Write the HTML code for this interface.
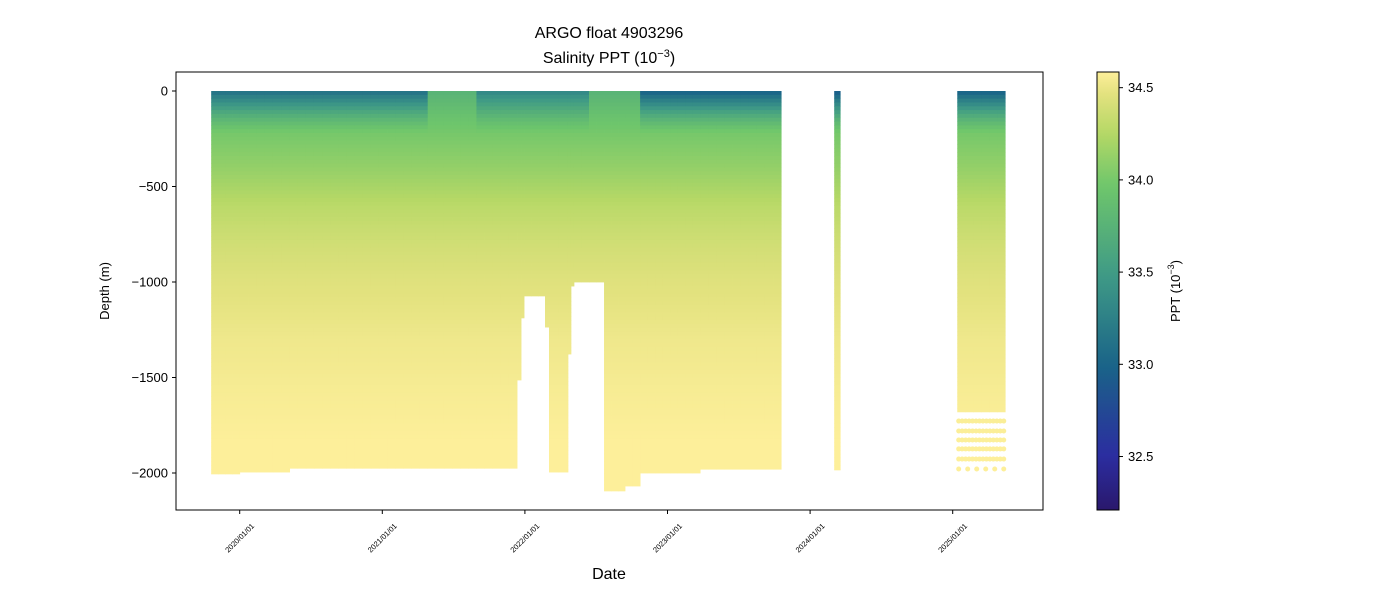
<!DOCTYPE html>
<html><head><meta charset="utf-8">
<style>
html,body{margin:0;padding:0;background:#fff;}
svg{display:block;font-family:"Liberation Sans","DejaVu Sans",sans-serif;}
</style></head>
<body>
<svg id="chart" width="1400" height="600" viewBox="0 0 1400 600">
  <text x="609" y="38" font-size="16" text-anchor="middle">ARGO float 4903296</text>
  <text x="609" y="63" font-size="16" text-anchor="middle">Salinity PPT (10<tspan dy="-6" font-size="11">−3</tspan><tspan dy="6">)</tspan></text>
  <g id="plot"></g>
  <rect x="176" y="72" width="867" height="438" fill="none" stroke="#000" stroke-width="1"/>
  <g id="yaxis"></g>
  <g id="xaxis"></g>
  <text x="0" y="0" font-size="13" text-anchor="middle" transform="translate(109,291) rotate(-90)">Depth (m)</text>
  <text x="609" y="579" font-size="16" text-anchor="middle">Date</text>
  <defs><linearGradient id="cbgrad" x1="0" y1="1" x2="0" y2="0"></linearGradient></defs>
  <rect x="1097" y="72" width="22" height="438" fill="url(#cbgrad)" stroke="#000" stroke-width="1"/>
  <g id="cbaxis"></g>
  <text x="0" y="0" font-size="13" text-anchor="middle" transform="translate(1180,291) rotate(-90)">PPT (10<tspan dy="-6" font-size="9">−3</tspan><tspan dy="6">)</tspan></text>
</svg>
<script>
// ---- data ----
const segStart  = [2019.80,2020.00,2020.35,2021.945,2021.973,2021.994,2022.141,2022.169,2022.302,2022.323,2022.344,2022.555,2022.702,2022.808,2023.229,2024.169,2025.032];
const segEnd    = [2020.00,2020.35,2021.945,2021.973,2021.994,2022.141,2022.169,2022.302,2022.323,2022.344,2022.555,2022.702,2022.808,2023.229,2023.797,2024.211,2025.368];
const segBottom = [-2005,-1995,-1975,-1513,-1188,-1073,-1236,-1995,-1377,-1021,-1000,-2094,-2068,-2000,-1980,-1984,-1680];
const surfStart = [2019.80,2021.31,2021.65,2022.46,2022.808,2024.0,2025.0];
const surfEnd   = [2021.31,2021.65,2022.46,2022.808,2023.797,2024.3,2025.4];
const surfSal   = [33.1,33.75,33.3,33.75,32.95,32.9,32.95];
const profDepth = [0,50,100,150,250,400,600,800,1000,1300,1600,2000,2200];
const profSal   = [33.8,33.85,33.9,33.95,34.02,34.12,34.28,34.38,34.45,34.52,34.56,34.6,34.61];
const dotDepths = [-1728,-1780,-1827,-1874,-1927,-1979];
const dotCounts = [14,14,14,14,14,6];
const yTicks = [0,-500,-1000,-1500,-2000];
const yTickLabels = ["0","−500","−1000","−1500","−2000"];
const xTicks = [2020,2021,2022,2023,2024,2025];
const xTickLabels = ["2020/01/01","2021/01/01","2022/01/01","2023/01/01","2024/01/01","2025/01/01"];
const cbTicks = [32.5,33.0,33.5,34.0,34.5];
const cbTickLabels = ["32.5","33.0","33.5","34.0","34.5"];
const cmin = 32.21, cmax = 34.585;
const cmapPos = [0,0.123,0.33,0.535,0.74,0.86,0.95,1];
const cmapCol = ["#2a186c","#2b2da0","#1a6488","#3f9a86","#6ec66b","#b5d866","#e3e27f","#fdef9a"];

// ---- axes ----
const X = t => 239.7 + (t-2020)*142.6;
const Y = d => 91 - d*0.191;
const CB = v => 510 - (v-cmin)/(cmax-cmin)*438;
const NS="http://www.w3.org/2000/svg";
function mk(tag,attrs,parent){const e=document.createElementNS(NS,tag);for(const k in attrs)e.setAttribute(k,attrs[k]);parent.appendChild(e);return e;}
function hex(c){return [parseInt(c.slice(1,3),16),parseInt(c.slice(3,5),16),parseInt(c.slice(5,7),16)];}
function color(v){
  let f=(v-cmin)/(cmax-cmin); f=Math.max(0,Math.min(1,f));
  for(let i=0;i<cmapPos.length-1;i++){
    if(f<=cmapPos[i+1]){const u=(f-cmapPos[i])/(cmapPos[i+1]-cmapPos[i]);const a=hex(cmapCol[i]),b=hex(cmapCol[i+1]);
      return "rgb("+a.map((x,j)=>Math.round(x+(b[j]-x)*u)).join(",")+")";}
  }
  return cmapCol[cmapCol.length-1];
}
function baseSal(d){
  for(let i=0;i<profDepth.length-1;i++){if(d<=profDepth[i+1]){const u=(d-profDepth[i])/(profDepth[i+1]-profDepth[i]);return profSal[i]+(profSal[i+1]-profSal[i])*u;}}
  return profSal[profSal.length-1];
}
function surfAt(t){for(let i=0;i<surfStart.length;i++){if(t>=surfStart[i]&&t<=surfEnd[i])return surfSal[i];}return profSal[0];}
function sal(t,depth){
  const b=baseSal(depth); const s=surfAt(t); const w=Math.max(0,1-depth/220);
  return b+(s-profSal[0])*Math.pow(w,1.3);
}
const plot=document.getElementById('plot');
const step=20;
for(let i=0;i<segStart.length;i++){
  const g=mk('g',{},plot);
  
  
  const x0=X(segStart[i]), x1=X(segEnd[i]);
  const maxD=-segBottom[i];
  const nt=Math.max(1,Math.round((x1-x0)/8));
  for(let k=0;k<nt;k++){
    const xa=x0+(x1-x0)*k/nt, xb=x0+(x1-x0)*(k+1)/nt;
    const tm=segStart[i]+(segEnd[i]-segStart[i])*(k+0.5)/nt;
    for(let d=0; d<maxD; d+=step){
      const db=Math.min(maxD,d+step);
      mk('rect',{x:xa.toFixed(2),y:Y(-d).toFixed(2),width:(xb-xa+0.4).toFixed(2),height:(Y(-db)-Y(-d)+0.4).toFixed(2),fill:color(sal(tm,(d+db)/2))},g);
    }
  }
}
const last=segStart.length-1;
for(let r=0;r<dotDepths.length;r++){
  const n=dotCounts[r];
  for(let k=0;k<n;k++){
    const t=segStart[last]+0.01+(segEnd[last]-segStart[last]-0.02)*(n===1?0.5:k/(n-1));
    const c=mk('circle',{cx:X(t).toFixed(2),cy:Y(dotDepths[r]).toFixed(2),r:2.5,fill:color(sal(t,-dotDepths[r]))},plot);
    
    
  }
}
const ya=document.getElementById('yaxis');
yTicks.forEach((v,i)=>{
  const l=mk('line',{x1:172,x2:176,y1:Y(v),y2:Y(v),stroke:'#000'},ya);
  
  
  const t=mk('text',{x:168,y:Y(v)+4.5,'font-size':13,'text-anchor':'end'},ya);
  
  
  t.textContent=yTickLabels[i];
});
const xa=document.getElementById('xaxis');
xTicks.forEach((v,i)=>{
  const l=mk('line',{x1:X(v),x2:X(v),y1:510,y2:514,stroke:'#000'},xa);
  
  
  const t=mk('text',{x:0,y:2.5,'font-size':7.5,'text-anchor':'middle',transform:'translate('+(X(v))+',538) rotate(-45)'},xa);
  
  
  t.textContent=xTickLabels[i];
});
const gr=document.getElementById('cbgrad');
for(let i=0;i<=40;i++){const f=i/40;mk('stop',{offset:f,'stop-color':color(cmin+f*(cmax-cmin))},gr);}
const cba=document.getElementById('cbaxis');
cbTicks.forEach((v,i)=>{
  const l=mk('line',{x1:1119,x2:1123,y1:CB(v),y2:CB(v),stroke:'#000'},cba);
  
  
  const t=mk('text',{x:1128,y:CB(v)+4.5,'font-size':13},cba);
  
  
  t.textContent=cbTickLabels[i];
});
</script>
</body></html>
